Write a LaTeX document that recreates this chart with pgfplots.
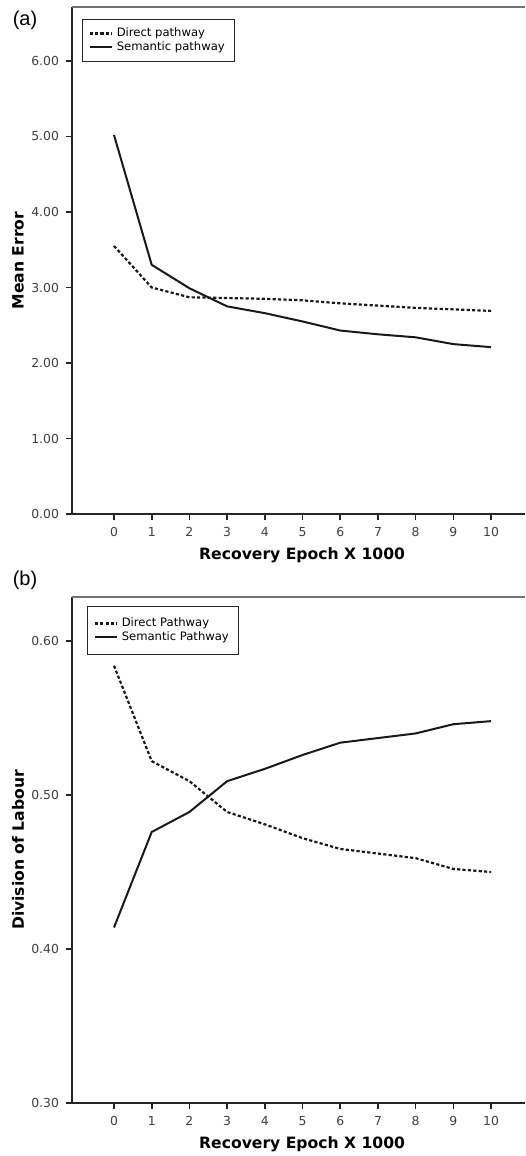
\documentclass[border=0pt]{standalone}
\usepackage{fontspec}
\setmainfont{DejaVu Sans}
\newfontfamily\helv{Liberation Sans}
\usepackage{pgfplots}
\pgfplotsset{compat=1.18}

\pgfplotsset{
  recov/.style={
    scale only axis,
    width=226.5pt,
    xmin=-1.114, xmax=10.90,
    axis x line=bottom, axis y line=left,
    axis line style={line width=1pt, black!85, -},
    xtick={0,...,10},
    tick align=outside,
    major tick length=3pt,
    tick style={line width=0.8pt, black!85},
    ticklabel style={font=\fontsize{6.2}{7}\selectfont, text=black!75},
    /pgf/number format/assume math mode=true,
    yticklabel style={/pgf/number format/.cd, fixed, fixed zerofill, precision=2},
    xlabel={Recovery Epoch X 1000},
    label style={font=\fontsize{7.8}{9}\selectfont\bfseries},
    xlabel style={at={(axis description cs:0.508,0)}, anchor=center, yshift=-20.5pt},
    ylabel style={at={(axis description cs:-0.1192,0.5)}, anchor=center},
    legend cell align=left,
    legend style={at={(0,1)}, anchor=north west, draw=black!85, line width=0.6pt,
      font=\fontsize{5.8}{6.5}\selectfont, inner xsep=3pt, inner ysep=3.5pt, row sep=-3pt},
    legend image code/.code={\draw[##1] (0pt,0pt) -- (11pt,0pt);},
    after end axis/.code={\draw[black!55, line width=1pt] (rel axis cs:0,1) -- (rel axis cs:1,1);},
  },
  directline/.style={black!90, line width=1.1pt, dash pattern=on 1.6pt off 1.1pt},
  semanticline/.style={black!90, line width=1pt, solid},
}

\begin{document}
\begin{tikzpicture}
\path[use as bounding box] (0,0) rectangle (262.5pt,-578pt);

\node[font=\helv\fontsize{10}{12}\selectfont] at (12.5pt,-10pt) {(a)};
\node[font=\helv\fontsize{10}{12}\selectfont] at (12.5pt,-290pt) {(b)};

% (a) Mean error
\begin{axis}[recov,
  at={(36pt,-257pt)}, anchor=south west,
  height=253.5pt,
  ymin=0, ymax=6.715,
  ytick={0,1,2,3,4,5,6},
  ylabel={Mean Error},
  legend style={xshift=5pt, yshift=-6pt, inner ysep=2pt},
]
\addplot[directline] coordinates {
  (0,3.55) (1,3.00) (2,2.87) (3,2.86) (4,2.85) (5,2.83)
  (6,2.79) (7,2.76) (8,2.73) (9,2.71) (10,2.69)
};
\addplot[semanticline] coordinates {
  (0,5.02) (1,3.30) (2,2.99) (3,2.75) (4,2.66) (5,2.55)
  (6,2.43) (7,2.38) (8,2.34) (9,2.25) (10,2.21)
};
\legend{Direct pathway, Semantic pathway}
\end{axis}

% (b) Division of labour
\begin{axis}[recov,
  at={(36pt,-551.5pt)}, anchor=south west,
  height=253pt,
  ymin=0.30, ymax=0.6286,
  ytick={0.3,0.4,0.5,0.6},
  ylabel={Division of Labour},
  legend style={xshift=7.5pt, yshift=-4.5pt},
]
\addplot[directline] coordinates {
  (0,0.584) (1,0.522) (2,0.509) (3,0.489) (4,0.481) (5,0.472)
  (6,0.465) (7,0.462) (8,0.459) (9,0.452) (10,0.450)
};
\addplot[semanticline] coordinates {
  (0,0.414) (1,0.476) (2,0.489) (3,0.509) (4,0.517) (5,0.526)
  (6,0.534) (7,0.537) (8,0.540) (9,0.546) (10,0.548)
};
\legend{Direct Pathway, Semantic Pathway}
\end{axis}
\end{tikzpicture}
\end{document}
